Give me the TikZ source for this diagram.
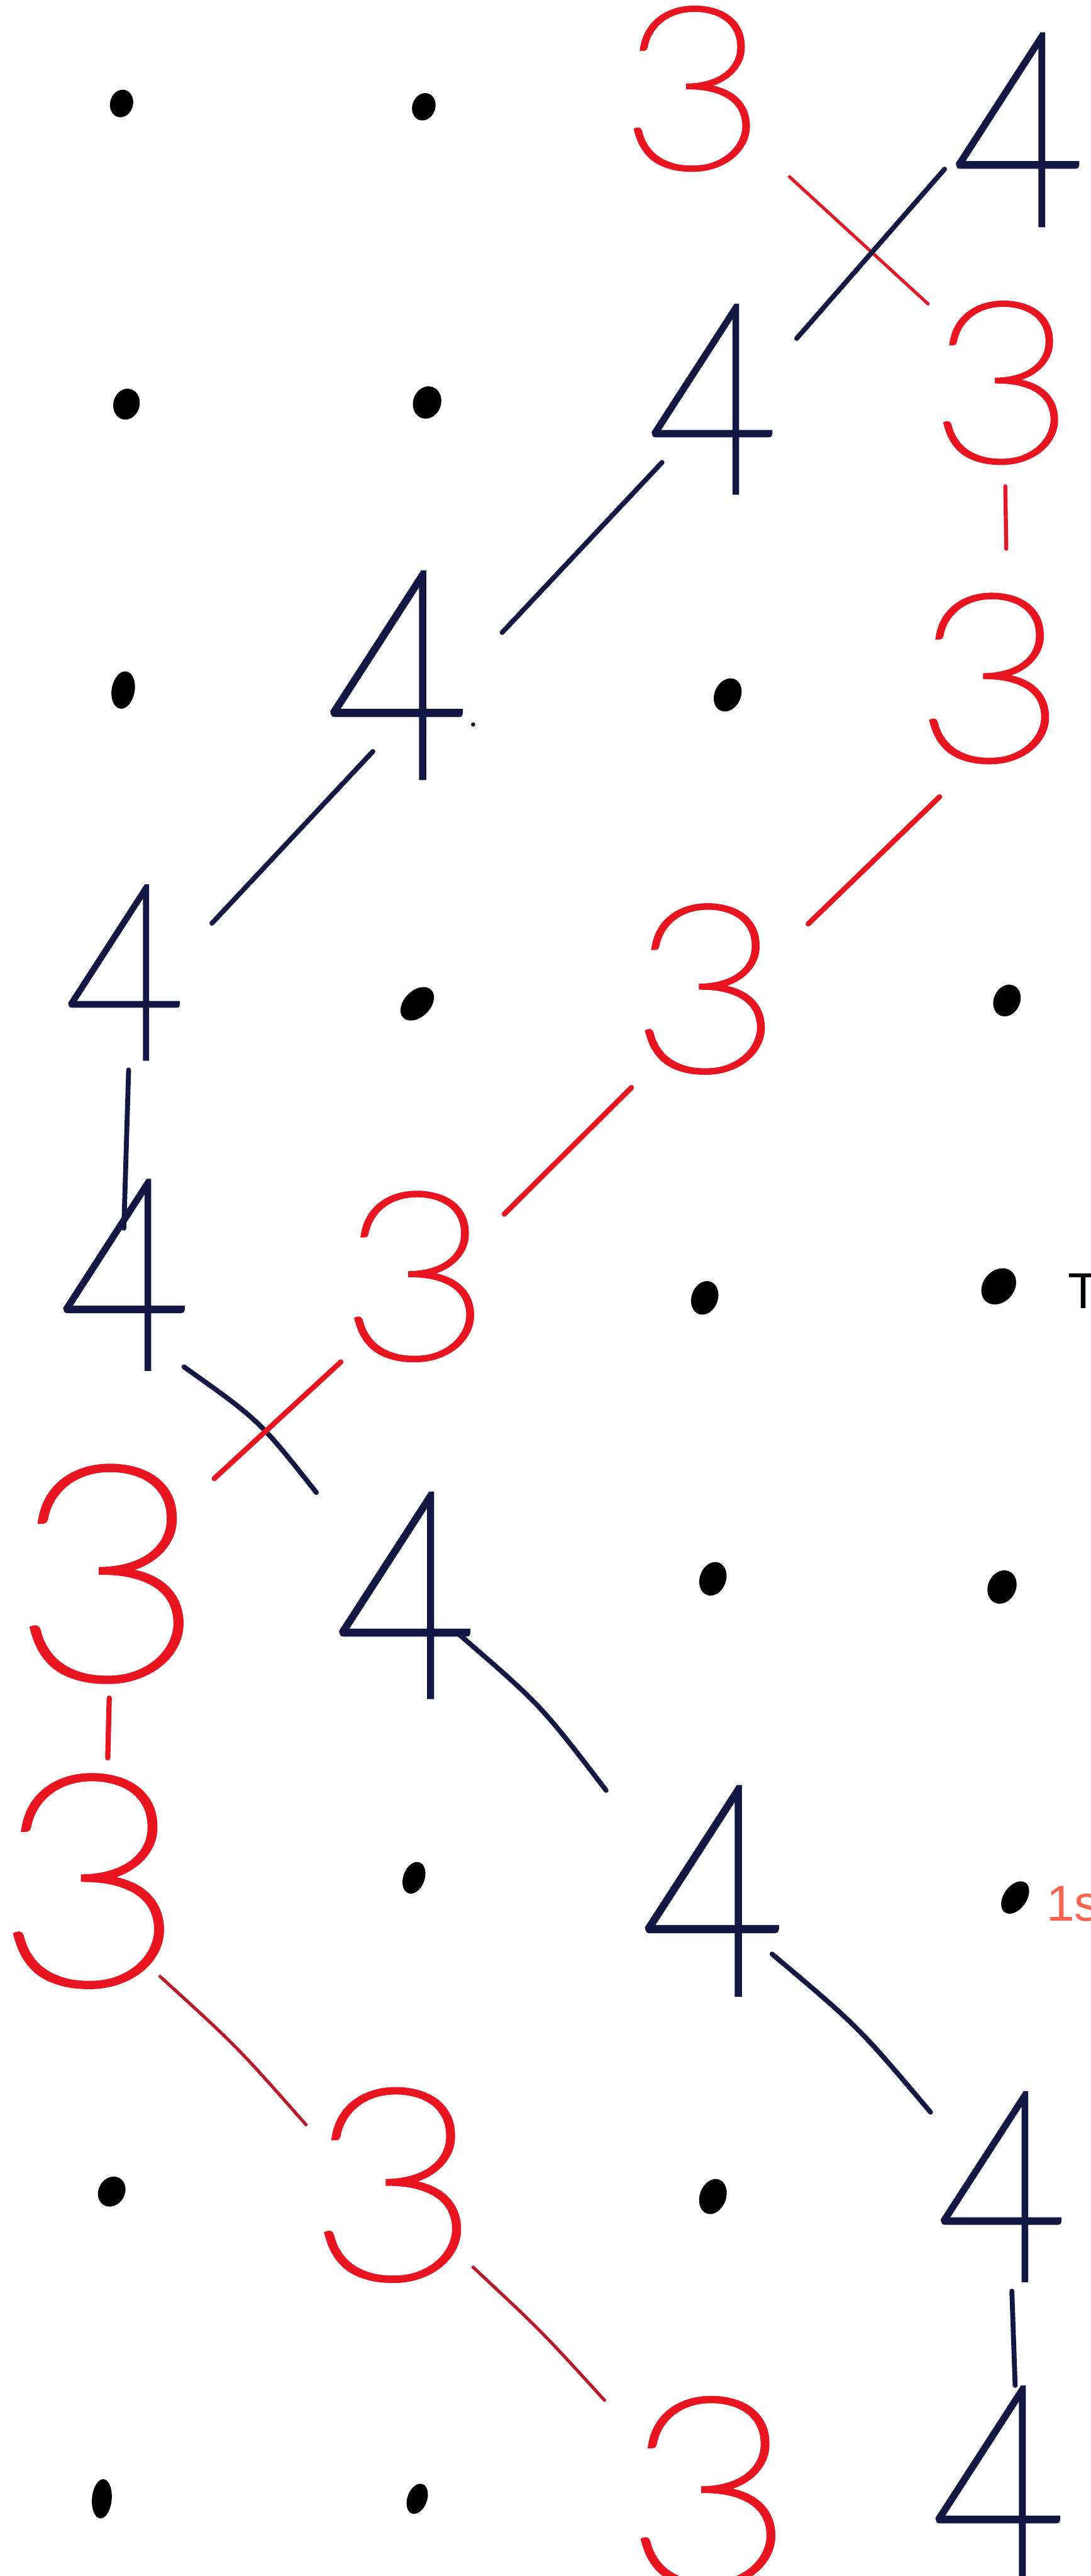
\documentclass[tikz,border=0pt]{standalone}
\usepackage{fontspec}
\setmainfont{Liberation Sans}
\IfFontExistsTF{Lato Thin}{\newfontfamily\digitfont{Lato Thin}[FakeBold=1.8]}{%
 \IfFontExistsTF{Lato Light}{\newfontfamily\digitfont{Lato Light}}{%
  \IfFontExistsTF{Fira Sans Light}{\newfontfamily\digitfont{Fira Sans Light}}{%
   \newfontfamily\digitfont{Fira Sans}}}}
\usetikzlibrary{calc,shapes.geometric}
\definecolor{myred}{RGB}{232,20,32}
\definecolor{lred}{RGB}{225,25,40}
\definecolor{dred}{RGB}{185,25,40}
\definecolor{mynavy}{RGB}{18,24,66}
\definecolor{lblred}{RGB}{250,100,80}
\begin{document}
\begin{tikzpicture}[x=0.02cm,y=-0.02cm,
  d3/.style={text=myred, inner sep=0pt, xscale=1.12, font=\digitfont\fontsize{#1}{#1}\selectfont},
  d4/.style={text=mynavy, inner sep=0pt, xscale=0.85, font=\digitfont\fontsize{#1}{#1}\selectfont},
  dotn/.style n args={3}{ellipse, fill=black, inner sep=0pt, minimum width={#1*0.02cm}, minimum height={#2*0.02cm}, rotate=#3},
  redln/.style={draw=lred, line width=1.1pt, line cap=round},
  redthick/.style={draw=myred, line width=1.8pt, line cap=round},
  reddark/.style={draw=dred, line width=1.1pt, line cap=round},
  blueln/.style={draw=mynavy, line width=1.7pt, line cap=round},
  lbl/.style={inner sep=0pt, anchor=west, font=\fontsize{17.5}{17.5}\selectfont}]
\fill[white] (0,0) rectangle (664,1568);
\useasboundingbox (0,0) rectangle (664,1568);

% dots
\node[dotn={17}{14}{75}] (D11) at (74,63) {};
\node[dotn={17}{14}{70}] (D12) at (258,65) {};
\node[dotn={19}{16}{75}] (D21) at (77,246) {};
\node[dotn={20}{17}{70}] (D22) at (260,245) {};
\node[dotn={23}{14}{80}] (D31) at (75,420) {};
\node[dotn={21}{16}{65}] (D33) at (443,423) {};
\node[dotn={24}{16}{45}] (D42) at (254,611) {};
\node[dotn={20}{16}{65}] (D44) at (613,609) {};
\node[dotn={21}{16}{70}] (D53) at (429,790) {};
\node[dotn={24}{19}{50}] (D54) at (608,783) {};
\node[dotn={21}{16}{70}] (D63) at (434,961) {};
\node[dotn={21}{17}{65}] (D64) at (610,966) {};
\node[dotn={20}{13}{70}] (D72) at (252,1143) {};
\node[dotn={22}{14}{55}] (D74) at (618,1155) {};
\node[dotn={19}{16}{60}] (D81) at (68,1334) {};
\node[dotn={22}{16}{70}] (D83) at (434,1337) {};
\node[dotn={24}{12}{85}] (D91) at (62,1521) {};
\node[dotn={19}{12}{70}] (D92) at (254,1521) {};
\node[circle, fill=black, inner sep=0pt, minimum size=0.05cm] (sp) at (288,441) {};

% red threes
\node[d3=78.5] (A1) at (422,54) {3};
\node[d3=77.6] (A2) at (610,233) {3};
\node[d3=81] (A3) at (603,413) {3};
\node[d3=81] (A4) at (430,602) {3};
\node[d3=81] (A5) at (253,777) {3};
\node[d3=104] (A6) at (66,958) {3};
\node[d3=102] (A7) at (55,1145) {3};
\node[d3=92.5] (A8) at (240,1330) {3};
\node[d3=91] (A9) at (432,1517) {3};

% navy fours
\node[d4=94] (B1) at (620,79) {4};
\node[d4=92] (B2) at (434,243) {4};
\node[d4=101] (B3) at (242,411) {4};
\node[d4=85] (B4) at (76,592) {4};
\node[d4=92.5] (B5) at (76,776) {4};
\node[d4=100] (B6) at (247,971) {4};
\node[d4=102] (B7) at (434,1151) {4};
\node[d4=92] (B8) at (610,1331) {4};
\node[d4=95] (B9) at (608,1512) {4};

% connectors
\draw[redln] ($(A1)+(58.6,53.6)$) -- ($(A2)+(-45,-48)$);
\draw[blueln] ($(B2)+(51,-37)$) -- ($(B1)+(-45,24)$);
\draw[redln, line width=1.4pt] ($(A2)+(2,63)$) -- ($(A3)+(9.6,-79)$);
\draw[blueln] ($(B2)+(-31,38.5)$) -- ($(B3)+(63.7,-26)$);
\draw[blueln] ($(B3)+(-15,46.4)$) -- ($(B4)+(53,-30)$);
\draw[redthick] ($(A3)+(-31,72)$) -- ($(A4)+(62,-39.6)$);
\draw[blueln] ($(B4)+(2.3,59.3)$) -- ($(B5)+(-0.6,-28.4)$);
\draw[redthick] ($(A4)+(-45.6,60)$) -- ($(A5)+(54,-38)$);
\draw[blueln] ($(B5)+(36,56)$) .. controls ($(B5)+(81.8,88.5)$) .. ($(B6)+(-54.4,-62.5)$);
\draw[redthick] ($(A5)+(-45.5,52)$) -- ($(A6)+(64.4,-58)$);
\draw[redthick] ($(A6)+(0.5,75.6)$) -- ($(A7)+(10.6,-75)$);
\draw[blueln] ($(B6)+(32.4,23.8)$) .. controls ($(B6)+(82.1,66.7)$) .. ($(B7)+(-65,-61.2)$);
\draw[reddark] ($(A7)+(42.4,58)$) .. controls ($(A7)+(89.4,100.8)$) .. ($(A8)+(-53.7,-36.7)$);
\draw[blueln] ($(B7)+(36,38.4)$) .. controls ($(B7)+(88.4,82.5)$) .. ($(B8)+(-43.5,-45.3)$);
\draw[blueln] ($(B8)+(6,63.6)$) -- ($(B9)+(10,-60)$);
\draw[reddark] ($(A8)+(48,50)$) .. controls ($(A8)+(89.7,89)$) .. ($(A9)+(-64,-56)$);

% labels at the right edge
\node[lbl] (T) at (650,786) {T};
\node[lbl, text=lblred] (S) at (636.7,1159) {1s};
\end{tikzpicture}
\end{document}
